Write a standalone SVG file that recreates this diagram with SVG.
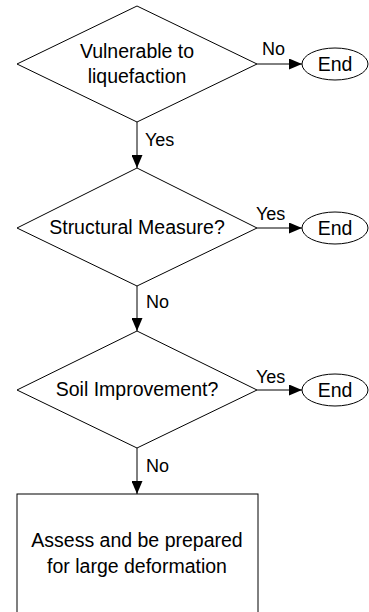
<svg xmlns="http://www.w3.org/2000/svg" width="369" height="612" viewBox="0 0 369 612">
<style>
.shape{fill:#fff;stroke:#000;stroke-width:1}
.t{font-family:"Liberation Sans",Arial,sans-serif;font-size:19.5px;fill:#000;text-anchor:middle}
.l{font-family:"Liberation Sans",Arial,sans-serif;font-size:18px;fill:#000}
.c{fill:none;stroke:#000;stroke-width:1}
</style>
<defs>
<marker id="arr" markerWidth="13" markerHeight="11" refX="13" refY="5.5" orient="auto" markerUnits="userSpaceOnUse">
<path d="M0,0 L13,5.5 L0,11 Z" fill="#000"/>
</marker>
</defs>
<rect width="369" height="612" fill="#fff"/>
<g id="connectors">
<line class="c" x1="137" y1="122" x2="137" y2="168" marker-end="url(#arr)"/>
<line class="c" x1="137" y1="286" x2="137" y2="331" marker-end="url(#arr)"/>
<line class="c" x1="137" y1="448" x2="137" y2="494" marker-end="url(#arr)"/>
<line class="c" x1="257" y1="64" x2="302" y2="64" marker-end="url(#arr)"/>
<line class="c" x1="257" y1="228" x2="302" y2="228" marker-end="url(#arr)"/>
<line class="c" x1="257" y1="390" x2="302" y2="390" marker-end="url(#arr)"/>
<text class="l" x="145" y="146">Yes</text>
<text class="l" x="146" y="308">No</text>
<text class="l" x="146" y="472">No</text>
<text class="l" x="262" y="55">No</text>
<text class="l" x="256" y="220">Yes</text>
<text class="l" x="256" y="383">Yes</text>
</g>
<g id="d1">
<polygon class="shape" points="137,6 257,64 137,122 17,64"/>
<text class="t" x="137" y="58">Vulnerable to</text>
<text class="t" x="137" y="83">liquefaction</text>
</g>
<g id="d2">
<polygon class="shape" points="137,168 257,228 137,286 17,228"/>
<text class="t" x="137" y="234">Structural Measure?</text>
</g>
<g id="d3">
<polygon class="shape" points="137,331 257,390 137,448 17,390"/>
<text class="t" x="137" y="396">Soil Improvement?</text>
</g>
<g id="e1">
<ellipse class="shape" cx="335" cy="64" rx="33" ry="16"/>
<text class="t" x="335" y="71">End</text>
</g>
<g id="e2">
<ellipse class="shape" cx="335" cy="228" rx="33" ry="16"/>
<text class="t" x="335" y="235">End</text>
</g>
<g id="e3">
<ellipse class="shape" cx="335" cy="390" rx="33" ry="16"/>
<text class="t" x="335" y="397">End</text>
</g>
<g id="box">
<rect class="shape" x="17" y="494" width="241" height="140"/>
<text class="t" x="137" y="547">Assess and be prepared</text>
<text class="t" x="137" y="573">for large deformation</text>
</g>
</svg>
